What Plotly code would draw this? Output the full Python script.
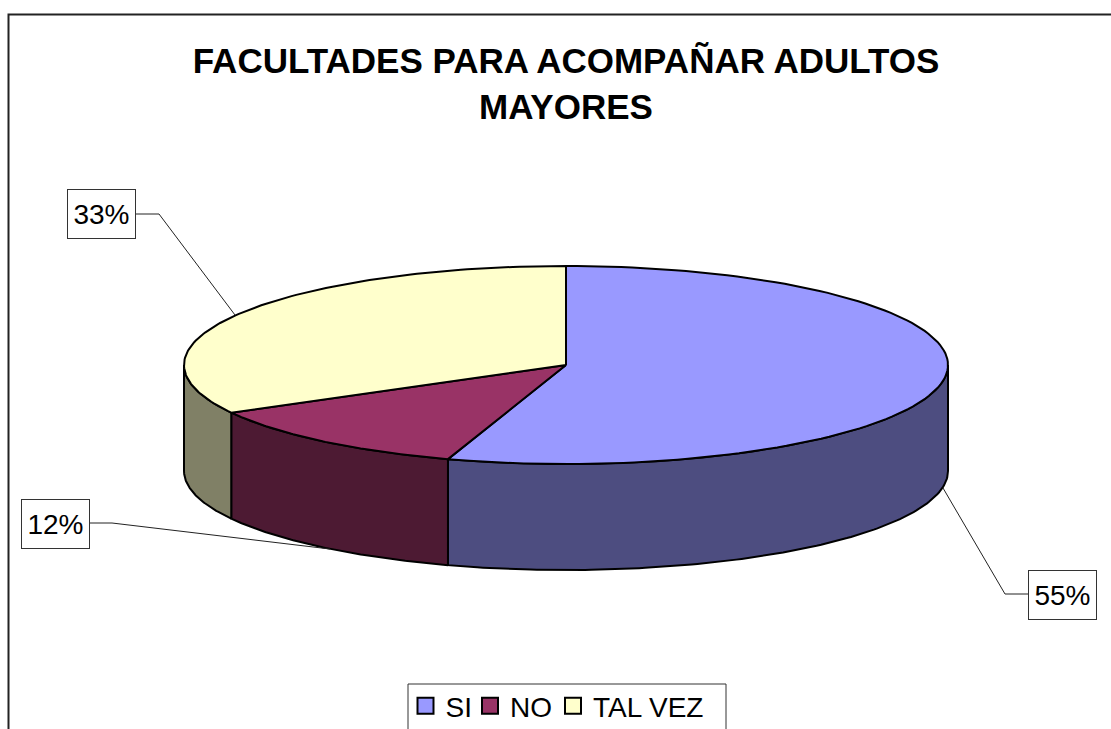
import numpy as np
import plotly.graph_objects as go

categories = ["SI", "NO", "TAL VEZ"]
values = [55, 12, 33]
top_colors = ["#9999FF", "#993366", "#FFFFCC"]
side_colors = ["#4D4D80", "#4D1A33", "#808066"]

# pie geometry, in page pixels
cx, cy = 566, 365
rx, ry = 382, 99
depth = 106

# label box centres and the elbow of each leader line
label_pos = [(1062.5, 594.5), (55.5, 524), (101.5, 214)]
leaders = [
    [(1028, 594), (1005, 594), (943, 488)],
    [(90, 523), (112, 523), (330, 549)],
    [(136, 214), (159, 214), (235, 315)],
]
# one legend per entry, so the spacing can follow the original
legend_x = [405.5, 470, 553]
legend_top = 681


def rim(a0, a1, n=120):
    t = np.radians(np.linspace(a0, a1, n))
    return cx + rx * np.sin(t), cy - ry * np.cos(t)


fig = go.Figure()

# work out slice angles, clockwise from 12 o'clock
edges = np.cumsum([0] + values) * 3.6

# side walls first, only the front half of the rim shows
for i in range(3):
    a0, a1 = max(edges[i], 90), min(edges[i + 1], 270)
    if a0 >= a1:
        continue
    x, y = rim(a0, a1)
    xs = list(x) + list(x[::-1]) + [x[0]]
    ys = list(y + depth) + list(y[::-1]) + [y[0] + depth]
    fig.add_trace(go.Scatter(x=xs, y=ys, mode="lines", fill="toself", fillcolor=side_colors[i],
                             line=dict(color="black", width=2), showlegend=False, hoverinfo="skip"))

# top faces
for i in range(3):
    x, y = rim(edges[i], edges[i + 1])
    xs = [cx] + list(x) + [cx]
    ys = [cy] + list(y) + [cy]
    fig.add_trace(go.Scatter(x=xs, y=ys, mode="lines", fill="toself", fillcolor=top_colors[i],
                             line=dict(color="black", width=2), showlegend=False,
                             name=categories[i], hoverinfo="name"))

# leader lines
for pts in leaders:
    fig.add_trace(go.Scatter(x=[p[0] for p in pts], y=[p[1] for p in pts], mode="lines",
                             line=dict(color="#222222", width=1), showlegend=False, hoverinfo="skip"))

# legend entries
legends = {}
for i in range(3):
    key = "legend" if i == 0 else f"legend{i + 1}"
    fig.add_trace(go.Scatter(x=[None], y=[None], mode="markers", name=categories[i], legend=key,
                             marker=dict(symbol="square", size=16, color=top_colors[i],
                                         line=dict(color="black", width=2))))
    legends[key] = dict(orientation="h", x=legend_x[i] / 1111, xanchor="left",
                        y=1 - legend_top / 729, yanchor="top",
                        font=dict(family="Liberation Sans", size=28, color="black"),
                        bgcolor="rgba(0,0,0,0)", borderwidth=0)

for i in range(3):
    fig.add_annotation(x=label_pos[i][0], y=label_pos[i][1], text=f"{values[i]}%", showarrow=False,
                       font=dict(family="Liberation Sans", size=28, color="black"),
                       bgcolor="white", bordercolor="#333333", borderwidth=1,
                       width=67, height=48, align="center", valign="middle", borderpad=0)

# chart frame, open to the right and bottom of the page, and the legend box
fig.add_shape(type="rect", x0=8.5, y0=14.5, x1=1130, y1=760, line=dict(color="#222222", width=2), layer="below")
fig.add_shape(type="rect", x0=408, y0=684, x1=726, y1=760, line=dict(color="#333333", width=1), layer="below")

fig.update_xaxes(range=[0, 1111], visible=False, fixedrange=True)
fig.update_yaxes(range=[729, 0], visible=False, fixedrange=True)

fig.update_layout(
    width=1111, height=729,
    margin=dict(l=0, r=0, t=0, b=0, autoexpand=False),
    paper_bgcolor="white", plot_bgcolor="white",
    title=dict(text="FACULTADES PARA ACOMPAÑAR ADULTOS<br>MAYORES",
               font=dict(family="Liberation Sans", size=35, color="black", weight="bold"),
               x=566 / 1111, xanchor="center", y=1 - 73 / 729, yanchor="top"),
    **legends,
)

fig.write_html("out.html", config=dict(displayModeBar=False),
               post_script="document.body.style.margin='0';document.body.style.overflow='hidden';window.dispatchEvent(new Event('resize'));")
